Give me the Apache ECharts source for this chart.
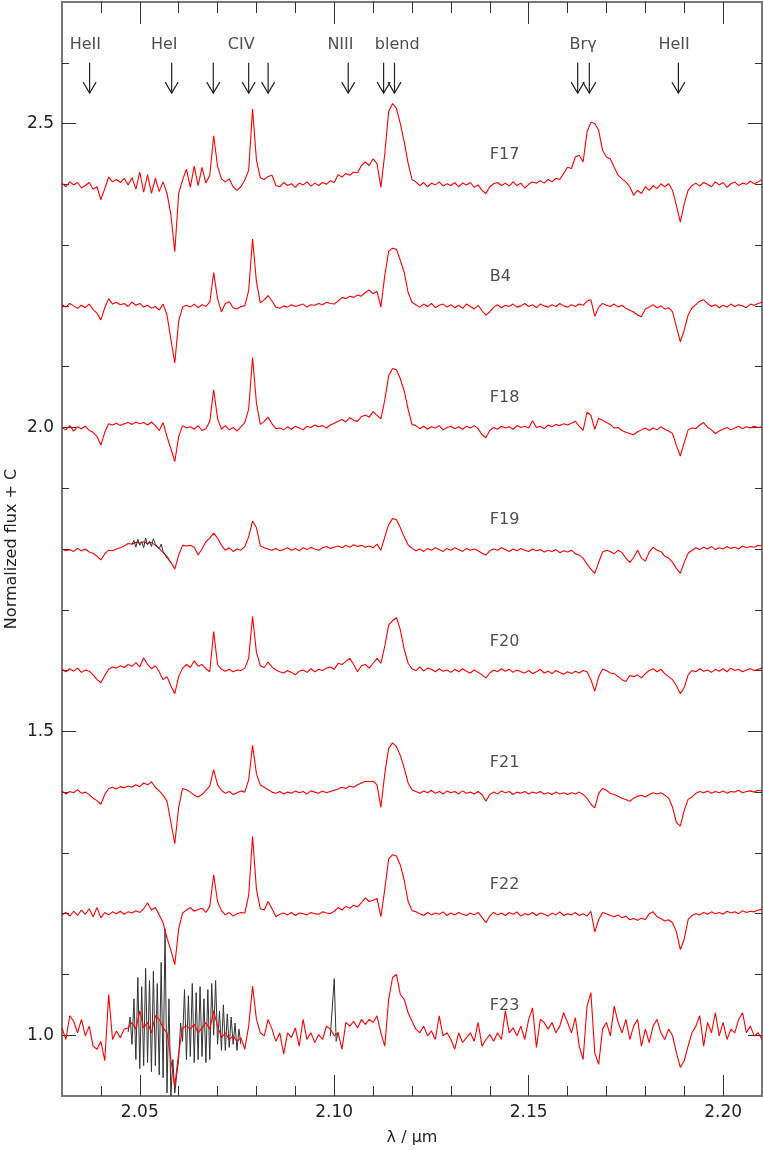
<!DOCTYPE html>
<html>
<head>
<meta charset="utf-8">
<title>K-band spectra</title>
<script src="https://cdn.jsdelivr.net/npm/echarts@6/dist/echarts.min.js"></script>
<style>
  html, body { margin: 0; padding: 0; background: #fff; }
  #chart { width: 763px; height: 1150px; }
</style>
</head>
<body>
<div id="chart"></div>
<script>
// wavelength grid of the red spectra, micron
var LAMBDA_START = 2.030;
var LAMBDA_STEP = 0.001;

var STARS = ['F17', 'B4', 'F18', 'F19', 'F20', 'F21', 'F22', 'F23'];
var OFFSETS = [1.4, 1.2, 1.0, 0.8, 0.6, 0.4, 0.2, 0.0];

// normalized flux, 2.030 .. 2.210 um
var F17 = [
  1.002, 0.996, 1.004, 0.999, 1.003, 0.994, 0.998, 1.003, 0.992, 0.996,
  0.975, 0.993, 1.012, 1.004, 1.008, 1.003, 1.010, 0.999, 1.011, 0.992,
  1.020, 0.987, 1.016, 0.985, 1.010, 0.988, 1.004, 0.985, 0.950, 0.889,
  0.985, 1.007, 1.025, 0.995, 1.030, 0.998, 1.028, 1.002, 1.015, 1.080,
  1.030, 1.009, 1.004, 1.009, 0.996, 0.990, 0.996, 1.007, 1.023, 1.124,
  1.040, 1.011, 1.008, 1.013, 1.015, 0.998, 0.996, 1.003, 0.998, 1.001,
  0.995, 1.002, 0.999, 1.004, 0.997, 1.002, 0.998, 1.003, 1.000, 1.006,
  1.003, 1.016, 1.012, 1.018, 1.015, 1.020, 1.019, 1.031, 1.037, 1.031,
  1.042, 1.034, 0.995, 1.050, 1.120, 1.133, 1.125, 1.100, 1.070, 1.035,
  1.008, 1.004, 0.998, 1.003, 0.996, 1.002, 0.999, 1.004, 0.997, 1.001,
  0.998, 1.003, 0.996, 1.002, 0.999, 1.003, 0.995, 0.999, 0.990, 0.985,
  0.996, 1.001, 1.003, 0.998, 1.002, 0.997, 1.004, 0.998, 1.002, 0.994,
  1.000, 1.004, 1.002, 1.006, 1.002, 1.008, 1.004, 1.010, 1.008, 1.018,
  1.028, 1.026, 1.045, 1.048, 1.037, 1.086, 1.102, 1.100, 1.089, 1.056,
  1.045, 1.042, 1.028, 1.015, 1.009, 1.004, 0.996, 0.982, 0.990, 0.985,
  0.996, 0.990, 0.998, 0.993, 1.001, 0.996, 1.001, 0.990, 0.965, 0.938,
  0.968, 0.990, 0.998, 1.002, 0.997, 1.003, 1.000, 0.996, 1.004, 0.999,
  1.003, 0.995, 1.001, 1.004, 0.998, 1.002, 1.000, 1.005, 1.001, 1.004,
  1.008
];
var B4 = [
  1.002, 0.998, 1.004, 1.000, 0.996, 1.001, 0.997, 1.003, 0.994, 0.988,
  0.977, 0.997, 1.012, 1.003, 1.006, 1.002, 1.004, 0.999, 1.006, 1.001,
  1.004, 0.998, 1.001, 0.996, 0.999, 0.993, 1.003, 0.985, 0.945, 0.906,
  0.975, 0.998, 1.001, 0.998, 1.003, 0.997, 1.002, 0.999, 1.006, 1.055,
  1.012, 0.990, 1.004, 1.007, 0.997, 0.995, 0.999, 1.000, 1.025, 1.110,
  1.040, 1.005, 1.010, 1.017, 1.008, 0.998, 0.996, 1.000, 0.998, 1.002,
  0.999, 1.001, 1.003, 0.998, 1.002, 1.001, 1.004, 1.002, 1.006, 1.004,
  1.003, 1.008, 1.014, 1.012, 1.016, 1.014, 1.018, 1.016, 1.022, 1.026,
  1.020, 1.024, 0.998, 1.050, 1.090, 1.095, 1.093, 1.075, 1.055, 1.022,
  1.006, 1.002, 0.998, 1.003, 0.999, 1.004, 0.997, 1.001, 1.003, 0.998,
  1.002, 0.997, 1.001, 0.996, 1.003, 0.999, 0.995, 1.001, 0.992, 0.985,
  0.990, 0.998, 1.002, 0.997, 1.001, 0.999, 1.003, 0.998, 1.000, 1.004,
  0.999, 1.002, 0.997, 1.003, 1.000, 0.998, 1.002, 0.999, 1.004, 1.000,
  0.998, 1.002, 0.999, 1.003, 1.001, 1.008, 1.010, 0.983, 0.998, 1.004,
  1.001, 0.999, 1.003, 0.998, 1.001, 0.996, 0.993, 0.990, 0.985, 0.982,
  0.995, 0.998, 1.002, 0.997, 1.000, 0.995, 0.997, 0.990, 0.965, 0.941,
  0.960, 0.985, 0.997, 1.002, 1.008, 1.010, 1.004, 0.999, 1.002, 0.997,
  1.001, 0.998, 1.003, 0.999, 1.002, 1.000, 0.997, 1.003, 1.001, 1.004,
  1.006
];
var F18 = [
  1.000, 0.996, 1.003, 0.994, 1.001, 0.998, 1.002, 0.995, 0.992, 0.985,
  0.971, 0.992, 1.006, 1.004, 1.007, 1.003, 1.006, 1.008, 1.005, 1.009,
  1.006, 1.008, 1.004, 1.009, 1.003, 0.995, 1.008, 0.985, 0.965, 0.944,
  0.985, 1.003, 0.999, 1.001, 0.997, 1.003, 0.995, 0.998, 1.010, 1.062,
  1.015, 0.997, 1.003, 0.996, 1.000, 0.994, 1.001, 1.008, 1.030, 1.115,
  1.040, 1.005, 1.010, 1.017, 1.006, 0.998, 0.999, 0.996, 1.001, 0.997,
  1.002, 0.999, 0.996, 1.002, 1.000, 1.004, 1.001, 1.003, 0.999, 1.004,
  1.007, 1.010, 1.013, 1.009, 1.016, 1.012, 1.010, 1.018, 1.020, 1.017,
  1.026, 1.020, 1.014, 1.045, 1.085, 1.097, 1.095, 1.080, 1.060, 1.030,
  1.005, 1.003, 0.998, 1.002, 0.997, 1.001, 0.999, 1.003, 0.996, 1.000,
  1.002, 0.998, 1.001, 0.997, 1.002, 0.999, 1.003, 0.998, 0.988, 0.983,
  0.995, 1.000, 0.997, 1.002, 0.999, 1.001, 0.997, 1.003, 1.000, 1.002,
  0.999, 1.011, 1.000, 1.002, 0.998, 1.004, 1.001, 1.005, 1.003, 1.006,
  1.004, 1.007, 1.010, 1.002, 0.995, 1.025, 1.020, 0.997, 1.015, 1.012,
  1.008, 1.005, 0.999, 1.000, 0.995, 0.992, 0.990, 0.988, 0.993, 0.996,
  0.999, 0.995, 0.999, 0.996, 1.001, 0.997, 0.994, 0.990, 0.970, 0.953,
  0.975, 0.996, 0.999, 0.998, 1.004, 1.008, 1.000, 0.996, 0.990, 0.994,
  0.997, 1.000, 0.996, 0.999, 1.002, 0.998, 1.001, 0.999, 1.002, 1.000,
  1.001
];
var F19 = [
  1.000, 0.997, 0.999, 0.996, 1.001, 0.997, 1.000, 0.995, 0.993, 0.988,
  0.982, 0.992, 0.998, 0.997, 1.000, 1.002, 1.005, 1.009, 1.008, 1.011,
  1.010, 1.012, 1.009, 1.011, 1.006, 1.001, 0.994, 0.988, 0.978, 0.967,
  0.990, 1.006, 1.005, 1.006, 1.003, 0.990, 1.000, 1.012, 1.018, 1.026,
  1.018, 1.006, 0.998, 1.002, 0.996, 1.000, 0.998, 1.004, 1.020, 1.046,
  1.035, 1.005, 1.002, 1.000, 0.998, 1.001, 0.997, 0.999, 1.002, 0.998,
  1.001, 0.997, 1.002, 0.999, 1.003, 1.000, 0.998, 1.002, 1.004, 1.001,
  1.003, 1.005, 1.002, 1.006, 1.003, 1.007, 1.004, 1.006, 1.003, 1.005,
  1.002, 1.008, 0.998, 1.020, 1.040, 1.050, 1.048, 1.035, 1.020, 1.007,
  1.001, 0.997, 1.000, 0.996, 1.001, 0.998, 1.002, 0.999, 0.996, 1.001,
  0.998, 1.002, 0.999, 0.996, 1.001, 0.998, 1.000, 0.997, 0.993, 0.990,
  0.997, 1.000, 0.998, 1.002, 0.999, 0.996, 1.000, 0.997, 1.001, 0.998,
  0.996, 1.000, 0.997, 0.999, 0.995, 0.998, 0.996, 0.999, 0.994, 0.997,
  0.995, 0.998, 0.992, 0.990, 0.985, 0.975, 0.967, 0.960, 0.978, 0.995,
  0.998, 0.996, 0.992, 0.998, 0.994, 0.985, 0.978, 0.986, 0.998, 0.985,
  0.980, 0.995, 1.003, 0.998, 0.996, 0.988, 0.985, 0.978, 0.968, 0.960,
  0.978, 0.993, 0.998, 1.002, 0.999, 1.003, 1.000, 1.004, 0.999, 1.002,
  1.000, 1.004, 1.001, 1.003, 1.000, 1.005, 1.002, 1.004, 1.003, 1.006,
  1.005
];
var F20 = [
  1.002, 0.998, 1.003, 0.999, 1.004, 0.997, 1.001, 0.999, 0.993, 0.985,
  0.980, 0.992, 1.002, 1.006, 1.004, 1.008, 1.005, 1.010, 1.007, 1.013,
  1.006, 1.021, 1.010, 1.003, 1.008, 0.998, 0.985, 0.990, 0.975, 0.962,
  0.990, 1.004, 1.010, 1.005, 1.016, 1.007, 1.010, 1.003, 0.998, 1.064,
  1.010, 1.002, 0.999, 1.002, 0.998, 1.001, 1.000, 1.004, 1.020, 1.089,
  1.030, 1.008, 1.005, 1.014, 1.006, 1.001, 0.998, 0.996, 1.000, 0.997,
  0.993, 0.999, 1.001, 0.997, 1.003, 0.998, 1.002, 1.000, 1.004, 1.006,
  1.002, 1.012, 1.010, 1.015, 1.020, 1.010, 0.998, 1.008, 1.010, 1.004,
  1.012, 1.020, 1.012, 1.040, 1.075, 1.082, 1.087, 1.067, 1.035, 1.012,
  1.003, 1.000, 1.006, 0.999, 1.004, 1.002, 0.998, 1.003, 0.999, 1.001,
  0.997, 1.002, 0.998, 1.003, 0.999, 0.996, 1.001, 0.997, 0.993, 0.988,
  0.996, 1.001, 0.998, 1.003, 0.999, 1.002, 0.997, 1.001, 0.998, 0.996,
  1.000, 0.995, 0.998, 1.002, 0.996, 0.999, 0.995, 1.000, 0.997, 0.994,
  0.998, 0.995, 0.999, 0.996, 1.000, 0.998, 0.985, 0.966, 0.990, 1.002,
  1.000, 0.996, 0.995, 0.990, 0.985, 0.982, 0.992, 0.990, 0.993, 0.988,
  0.995, 1.000, 1.003, 0.998, 1.002, 0.995, 0.990, 0.985, 0.975, 0.962,
  0.972, 0.993, 1.000, 0.998, 1.003, 0.999, 1.001, 0.997, 1.002, 0.999,
  1.003, 0.998, 1.004, 1.000, 1.002, 0.998, 1.001, 1.003, 1.000, 1.002,
  1.004
];
var F21 = [
  1.002, 0.997, 1.001, 0.999, 1.004, 0.998, 1.000, 0.996, 0.990, 0.986,
  0.980, 0.996, 1.006, 1.008, 1.005, 1.009, 1.007, 1.010, 1.008, 1.012,
  1.009, 1.015, 1.012, 1.017, 1.008, 1.002, 0.995, 0.985, 0.950, 0.915,
  0.975, 1.006, 1.004, 1.000, 0.995, 0.992, 0.996, 1.003, 1.010, 1.037,
  1.012, 1.003, 0.998, 1.001, 0.996, 0.999, 1.002, 1.000, 1.020, 1.077,
  1.030, 1.012, 1.008, 1.004, 1.000, 0.998, 1.001, 0.997, 1.000, 0.998,
  1.002, 0.999, 1.001, 0.997, 1.002, 1.000, 0.998, 1.002, 0.999, 1.001,
  1.003, 1.005, 1.008, 1.006, 1.010, 1.008, 1.012, 1.015, 1.018, 1.017,
  1.018, 1.012, 0.975, 1.030, 1.072, 1.081, 1.075, 1.060, 1.040, 1.015,
  1.004, 1.001, 0.998, 1.002, 0.999, 1.003, 0.998, 1.001, 0.997, 1.002,
  0.999, 1.001, 0.997, 1.002, 0.998, 1.000, 0.997, 1.001, 0.996, 0.985,
  0.996, 1.000, 0.997, 1.002, 0.999, 1.001, 0.996, 1.000, 0.998, 1.001,
  0.997, 1.000, 0.998, 1.001, 0.997, 0.999, 0.996, 1.000, 0.997, 0.999,
  0.996, 0.999, 0.997, 1.000, 0.996, 0.990, 0.980, 0.974, 0.998, 1.006,
  1.003, 0.998, 0.996, 0.993, 0.990, 0.988, 0.985, 0.990, 0.993, 0.995,
  0.992, 0.996, 0.999, 0.997, 0.999, 0.995, 0.990, 0.975, 0.950, 0.944,
  0.970, 0.988, 0.992, 0.998, 1.001, 0.999, 1.002, 0.998, 1.001, 0.999,
  1.002, 0.998, 1.001, 1.000, 1.003, 0.999, 1.001, 1.002, 1.000, 1.003,
  1.002
];
var F22 = [
  0.998, 1.002, 0.996, 1.004, 0.997, 1.006, 0.999, 1.008, 0.995, 1.010,
  0.993, 1.002, 0.998, 1.003, 1.000, 1.004, 0.999, 1.003, 1.001, 1.005,
  1.002, 1.008, 1.018, 1.006, 1.010, 0.998, 0.985, 0.960, 0.940, 0.916,
  0.975, 1.001, 1.006, 1.010, 1.004, 1.007, 1.009, 1.002, 1.012, 1.064,
  1.020, 1.005, 0.998, 1.002, 0.996, 1.000, 1.002, 1.001, 1.030, 1.127,
  1.040, 1.008, 1.006, 1.020, 1.008, 0.995, 0.999, 1.001, 0.998, 1.002,
  0.997, 1.001, 1.000, 0.998, 1.002, 1.000, 0.999, 1.003, 1.001, 1.000,
  1.004, 1.010, 1.006, 1.012, 1.009, 1.014, 1.011, 1.018, 1.026, 1.020,
  1.022, 1.025, 0.995, 1.040, 1.090, 1.097, 1.095, 1.080, 1.055, 1.020,
  1.005, 1.003, 1.000, 0.997, 1.002, 0.998, 1.001, 0.999, 1.003, 0.997,
  1.001, 0.998, 1.002, 0.999, 0.997, 1.001, 0.998, 1.002, 0.994, 0.985,
  0.996, 1.002, 0.998, 1.001, 0.997, 1.002, 0.999, 1.003, 0.996, 1.000,
  0.998, 1.002, 0.997, 1.001, 0.999, 0.996, 1.001, 0.998, 1.003, 0.997,
  1.000, 0.998, 1.002, 0.997, 1.000, 0.996, 1.004, 0.970, 0.990, 1.002,
  1.000, 0.997, 0.995, 0.998, 0.993, 0.996, 0.990, 0.992, 0.989, 0.993,
  0.990, 1.000, 1.003, 0.995, 0.992, 0.988, 0.990, 0.985, 0.970, 0.941,
  0.958, 0.990, 0.997, 1.000, 0.998, 1.002, 0.999, 1.003, 1.000, 1.002,
  0.999, 1.004, 1.001, 1.003, 1.000, 1.005, 1.002, 1.004, 1.003, 1.006,
  1.007
];
var F23 = [
  1.012, 0.993, 1.032, 1.023, 1.004, 1.026, 0.999, 1.015, 0.982, 0.977,
  0.990, 0.958, 1.067, 0.993, 1.007, 0.996, 1.010, 1.012, 1.021, 1.010,
  1.040, 1.012, 1.021, 1.004, 1.032, 1.026, 1.012, 1.004, 0.960, 0.916,
  0.971, 1.012, 1.015, 1.010, 1.018, 1.004, 1.012, 1.021, 1.010, 1.040,
  1.015, 0.996, 1.004, 0.993, 0.999, 0.990, 0.996, 0.977, 1.015, 1.081,
  1.026, 1.004, 0.999, 1.026, 1.010, 0.990, 1.004, 0.969, 1.004, 0.996,
  1.012, 0.982, 1.026, 0.993, 1.004, 0.988, 1.001, 0.993, 1.015, 1.010,
  0.999, 1.004, 0.977, 1.021, 1.015, 1.023, 1.012, 1.026, 1.018, 1.026,
  1.021, 1.032, 1.004, 0.982, 1.059, 1.095, 1.100, 1.067, 1.059, 1.037,
  1.023, 1.010, 1.004, 1.015, 0.999, 1.007, 0.993, 1.032, 0.999, 1.004,
  0.993, 0.977, 1.004, 0.988, 0.996, 1.004, 0.990, 1.021, 0.982, 0.993,
  1.001, 0.990, 1.004, 0.993, 1.040, 1.004, 1.012, 0.999, 1.015, 0.993,
  1.026, 1.045, 0.980, 1.026, 1.021, 1.010, 1.021, 1.004, 1.015, 1.037,
  1.021, 1.004, 1.029, 0.982, 0.960, 1.048, 1.070, 0.971, 0.952, 1.010,
  1.021, 0.999, 1.048, 1.021, 1.004, 1.026, 0.993, 1.015, 1.026, 0.982,
  1.010, 0.988, 1.015, 1.026, 1.004, 0.993, 1.010, 0.999, 0.971, 0.947,
  0.958, 0.982, 1.004, 1.015, 1.032, 0.982, 1.021, 1.004, 1.037, 0.999,
  1.021, 0.993, 1.010, 1.004, 1.026, 1.037, 1.004, 1.015, 0.999, 1.004,
  0.993
];

// unsmoothed (black) pieces, finer grid
var RAW_F19_START = 2.048;
var RAW_F19 = [1.008, 1.014, 1.003, 1.016, 1.006, 1.012, 1.002, 1.018, 1.007, 1.013,
  1.004, 1.017, 1.008, 1.011, 1.000, 1.008, 0.996, 0.995, 0.985, 0.987, 0.978];
var RAW_F23_START = 2.047;
var RAW_F23 = [1.005, 1.030, 0.985, 1.060, 0.960, 1.095, 0.945, 1.080, 0.950, 1.110,
  0.955, 1.090, 0.940, 1.105, 0.950, 1.085, 0.935, 1.120, 0.930, 1.175,
  0.905, 1.060, 0.900, 0.960, 0.905, 0.935, 0.960, 1.020, 0.990, 1.075,
  0.960, 1.065, 0.965, 1.085, 0.955, 1.070, 0.960, 1.080, 0.965, 1.060,
  0.955, 1.075, 0.960, 1.085, 1.000, 1.090, 0.985, 1.040, 0.975, 1.050,
  0.975, 1.035, 0.980, 1.030, 0.985, 1.020, 0.975, 1.010, 0.985];
var SPIKE_F23_START = 2.099;
var SPIKE_F23 = [0.998, 1.000, 1.093, 0.990, 1.005];
var RAW_STEP = 0.0005;

// line identifications
var ARROW_LAMBDA = [2.0371, 2.0582, 2.0689, 2.0780, 2.0830, 2.1036, 2.1127, 2.1155, 2.1626, 2.1656, 2.1885];
var LINE_NAMES = ['HeII', 'HeI', 'CIV', 'NIII', 'blend', 'Brγ', 'HeII'];
var LINE_NAME_LAMBDA = [2.0360, 2.0563, 2.0761, 2.1016, 2.1162, 2.1640, 2.1874];

var X_MAJOR = [2.05, 2.10, 2.15, 2.20];
var X_MINOR = [2.04, 2.06, 2.07, 2.08, 2.09, 2.11, 2.12, 2.13, 2.14, 2.16, 2.17, 2.18, 2.19];
var Y_MAJOR = [1.0, 1.5, 2.0, 2.5];
var Y_MINOR = [1.1, 1.2, 1.3, 1.4, 1.6, 1.7, 1.8, 1.9, 2.1, 2.2, 2.3, 2.4, 2.6];

var ARROW_TAIL = 2.60;
var ARROW_TIP = 2.55;
var LINE_NAME_Y = 2.630;
var STAR_LABEL_LAMBDA = 2.140;
var STAR_LABEL_LIFT = 1.048;

var FONT = 'DejaVu Sans';
var TEXT = '#222';

function toPoints (values, start, step, offset) {
  return values.map(function (v, i) {
    return [+(start + i * step).toFixed(4), +(v + offset).toFixed(4)];
  });
}

var FLUX = [F17, B4, F18, F19, F20, F21, F22, F23];

function xAxisDef (position, ticks, len, gridIndex) {
  return {
    type: 'value', gridIndex: gridIndex,
    position: position, min: 2.03, max: 2.21,
    axisLine: { show: true, lineStyle: { color: '#777', width: 2 } },
    axisTick: { show: true, inside: true, length: len, customValues: ticks, lineStyle: { color: '#333', width: 1 } },
    axisLabel: { show: false },
    splitLine: { show: false }
  };
}
function yAxisDef (position, ticks, len, gridIndex) {
  return {
    type: 'value', gridIndex: gridIndex,
    position: position, min: 0.9, max: 2.7,
    axisLine: { show: true, lineStyle: { color: '#777', width: 2 } },
    axisTick: { show: true, inside: true, length: len, customValues: ticks, lineStyle: { color: '#333', width: 1 } },
    axisLabel: { show: false },
    splitLine: { show: false }
  };
}

var xBottom = xAxisDef('bottom', X_MAJOR, 21, 0);
xBottom.axisLabel = {
  show: true, customValues: X_MAJOR, margin: 8,
  fontFamily: FONT, fontSize: 17, color: TEXT,
  formatter: function (v) { return v.toFixed(2) }
};
xBottom.name = 'λ / μm';
xBottom.nameLocation = 'middle';
xBottom.nameGap = 34;
xBottom.nameMoveOverlap = false;
xBottom.nameTextStyle = { fontFamily: FONT, fontSize: 16, color: TEXT };

var yLeft = yAxisDef('left', Y_MAJOR, 14, 0);
yLeft.axisLabel = {
  show: true, customValues: Y_MAJOR, margin: 8,
  fontFamily: FONT, fontSize: 17, color: TEXT,
  formatter: function (v) { return v.toFixed(1) }
};
yLeft.name = 'Normalized flux + C';
yLeft.nameLocation = 'middle';
yLeft.nameGap = 42;
yLeft.nameMoveOverlap = false;
yLeft.nameTextStyle = { fontFamily: FONT, fontSize: 16, color: TEXT };

var series = [];

// black raw data under the red F23 spectrum
series.push({
  type: 'line', data: toPoints(RAW_F23, RAW_F23_START, RAW_STEP, OFFSETS[7]),
  showSymbol: false, lineStyle: { color: '#333', width: 1 }, z: 2
});
series.push({
  type: 'line', data: toPoints(SPIKE_F23, SPIKE_F23_START, RAW_STEP, OFFSETS[7]),
  showSymbol: false, lineStyle: { color: '#333', width: 1 }, z: 2
});

FLUX.forEach(function (vals, k) {
  series.push({
    type: 'line', name: STARS[k],
    data: toPoints(vals, LAMBDA_START, LAMBDA_STEP, OFFSETS[k]),
    showSymbol: false, lineStyle: { color: '#ff0000', width: 1.1 }, z: 3
  });
});

series.push({
  type: 'line', data: toPoints(RAW_F19, RAW_F19_START, RAW_STEP, OFFSETS[3]),
  showSymbol: false, lineStyle: { color: '#333', width: 1 }, z: 4
});

// star names
series.push({
  type: 'scatter', symbolSize: 0, z: 5,
  data: STARS.map(function (s, k) { return [STAR_LABEL_LAMBDA, OFFSETS[k] + STAR_LABEL_LIFT, s] }),
  label: {
    show: true, position: 'right', distance: 0,
    fontFamily: FONT, fontSize: 16, color: TEXT,
    formatter: function (p) { return p.data[2] }
  }
});

// line names above arrows
series.push({
  type: 'scatter', symbolSize: 0, z: 5,
  data: LINE_NAMES.map(function (s, k) { return [LINE_NAME_LAMBDA[k], LINE_NAME_Y, s] }),
  label: {
    show: true, position: 'inside',
    fontFamily: FONT, fontSize: 16, color: TEXT,
    formatter: function (p) { return p.data[2] }
  }
});

// arrows
series.push({
  type: 'custom', z: 5,
  data: ARROW_LAMBDA.map(function (w) { return [w, ARROW_TIP] }),
  renderItem: function (params, api) {
    var tip = api.coord([api.value(0), ARROW_TIP]);
    var tail = api.coord([api.value(0), ARROW_TAIL]);
    var style = { stroke: '#222', lineWidth: 1.2, fill: 'none' };
    return {
      type: 'group',
      children: [
        { type: 'line', shape: { x1: tail[0], y1: tail[1], x2: tip[0], y2: tip[1] }, style: style },
        { type: 'polyline', shape: { points: [[tip[0] - 6.5, tip[1] - 11], [tip[0], tip[1]], [tip[0] + 6.5, tip[1] - 11]] }, style: style }
      ]
    };
  }
});

var chart = echarts.init(document.getElementById('chart'), null, { renderer: 'canvas' });
chart.setOption({
  backgroundColor: '#fff',
  animation: false,
  grid: [
    { left: 62, right: 1, top: 2, bottom: 54, containLabel: false, outerBoundsMode: 'none' },
    { left: 62, right: 1, top: 2, bottom: 54, containLabel: false, outerBoundsMode: 'none' }
  ],
  xAxis: [
    xBottom,
    xAxisDef('top', X_MAJOR, 22, 0),
    xAxisDef('bottom', X_MINOR, 10, 1),
    xAxisDef('top', X_MINOR, 11, 1)
  ],
  yAxis: [
    yLeft,
    yAxisDef('right', Y_MAJOR, 14, 0),
    yAxisDef('left', Y_MINOR, 7, 1),
    yAxisDef('right', Y_MINOR, 7, 1)
  ],
  series: series
});
</script>
</body>
</html>
